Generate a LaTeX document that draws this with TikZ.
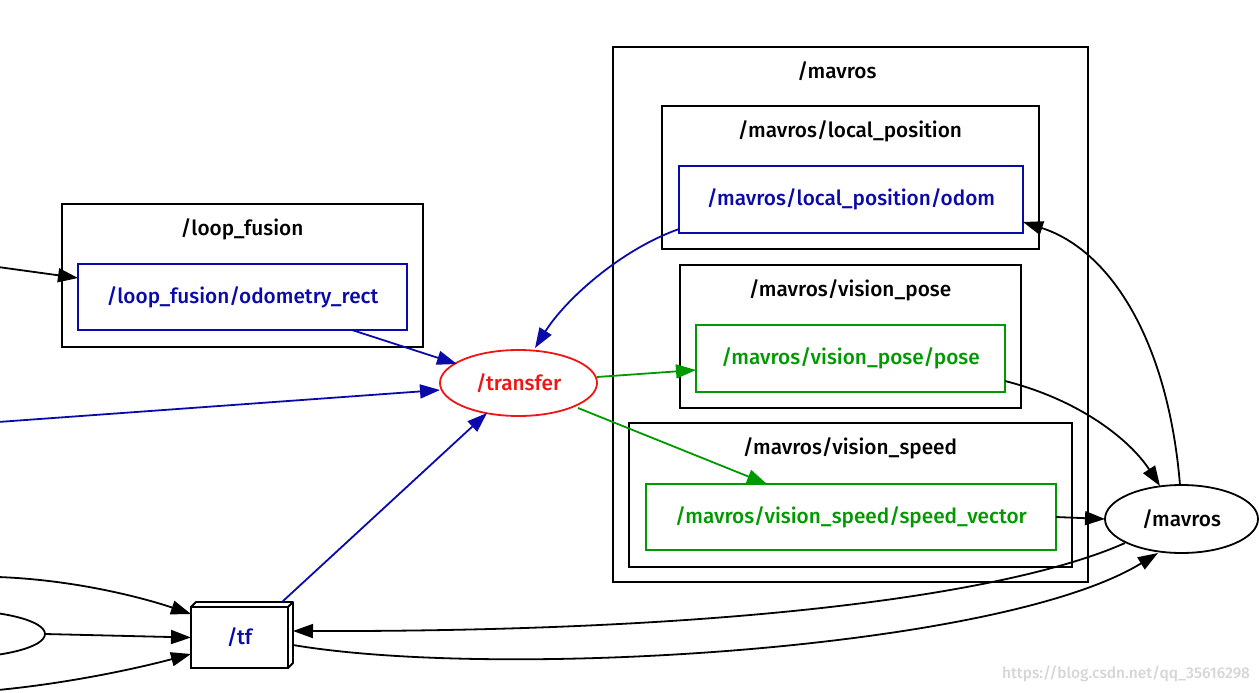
\documentclass[tikz,border=0pt]{standalone}
\usepackage{fontspec}
\setmainfont{Fira Sans}[UprightFont={* Medium}]
\usetikzlibrary{arrows.meta,shapes.geometric}
\definecolor{tblue}{RGB}{10,10,170}
\definecolor{tgreen}{RGB}{0,153,0}
\definecolor{tred}{RGB}{240,20,20}
\begin{document}
\begin{tikzpicture}[x=1pt,y=-1pt,
  every node/.style={inner sep=0pt,outer sep=0pt,font=\fontsize{20.8}{25}\selectfont},
  cluster/.style={draw=black,line width=1.9pt,rectangle},
  topic/.style={draw,line width=1.9pt,rectangle},
  ttl/.style={text=black},
  edge/.style={line width=1.8pt,-{Triangle[length=20pt,width=14pt]}},
]
\useasboundingbox (0,0) rectangle (1259,693);
\clip (0,0) rectangle (1259,693);
% clusters
\node[cluster,minimum width=475,minimum height=535] (cmav) at (850.5,314.5) {};
\node[ttl] (tmav) at (837,71) {/mavros};
\node[cluster,minimum width=377,minimum height=143] (clp) at (850.5,177.5) {};
\node[ttl] (tlp) at (850,131) {/mavros/local\_position};
\node[cluster,minimum width=341,minimum height=143] (cvp) at (850.5,336.5) {};
\node[ttl] (tvp) at (850,290) {/mavros/vision\_pose};
\node[cluster,minimum width=443,minimum height=144] (cvs) at (850.5,495) {};
\node[ttl] (tvs) at (850,448) {/mavros/vision\_speed};
\node[cluster,minimum width=361,minimum height=143] (clf) at (242.5,275.5) {};
\node[ttl] (tlf) at (242,229) {/loop\_fusion};
% topics
\node[topic,draw=tblue,text=tblue,minimum width=344,minimum height=67] (odom) at (851,199.5) {\raisebox{-1pt}{/mavros/local\_position/odom}};
\node[topic,draw=tgreen,text=tgreen,minimum width=309,minimum height=67] (pose) at (850.5,358.5) {\raisebox{-1pt}{/mavros/vision\_pose/pose}};
\node[topic,draw=tgreen,text=tgreen,minimum width=410,minimum height=66] (speed) at (851,517) {\raisebox{-1pt}{/mavros/vision\_speed/speed\_vector}};
\node[topic,draw=tblue,text=tblue,minimum width=329,minimum height=66] (odrect) at (242.5,297) {\raisebox{-1pt}{/loop\_fusion/odometry\_rect}};
% nodes
\node[ellipse,draw=tred,text=tred,line width=1.8pt,minimum width=157,minimum height=66] (transfer) at (518.5,383) {/transfer};
\node[ellipse,draw=black,line width=1.8pt,minimum width=153,minimum height=68] (mavros) at (1181.5,519) {/mavros};
\node[ellipse,draw=black,line width=1.8pt,minimum width=190,minimum height=48] (leftell) at (-50,634) {};
% tf box (3D)
\node[draw=black,line width=1.9pt,minimum width=97,minimum height=61,text=tblue] (tf) at (239.5,637.5) {/tf};
\draw[line width=1.9pt,line join=round] (tf.north west) -- ++(5,-5) -- ++(97,0) -- ++(0,61) -- (tf.south east);
\draw[line width=1.9pt] (tf.north east) -- ++(5,-5);
% free ends
\coordinate (inA) at (-2,267);
\coordinate (inB) at (-2,422);
\coordinate (inC) at (-2,577);
\coordinate (inD) at (-2,690);
% edges
\draw[edge] (inA) -- (odrect.west |- 0,278);
\draw[edge,tblue] (352,330) -- (457,364);
\draw[edge,tblue] (inB) -- (440,390);
\draw[edge,tblue] (282,602) -- (487,413);
\draw[edge,tblue] (679,229) .. controls (620,250) and (565,300) .. (535,348);
\draw[edge,tgreen] (597,377) -- (696,370);
\draw[edge,tgreen] (578,408) -- (767,484);
\draw[edge] (1005,381) .. controls (1080,400) and (1130,440) .. (1160,486);
\draw[edge] (speed.east) -- (mavros.west);
\draw[edge] (1180,485) .. controls (1168,340) and (1110,250) .. (1023,222);
\draw[edge] (1125,543) .. controls (1020,590) and (760,632) .. (293,631);
\draw[edge] (293,645) .. controls (500,680) and (1000,650) .. (1158,553);
\draw[edge] (inC) .. controls (80,580) and (150,600) .. (191,614);
\draw[edge] (leftell.east) -- (tf.west);
\draw[edge] (inD) .. controls (80,682) and (150,665) .. (191,654);
% watermark
\node[text=black!16,font=\fontsize{15.5}{18}\selectfont,anchor=east] (wm) at (1250,674) {https://blog.csdn.net/qq\_35616298};
\end{tikzpicture}
\end{document}
